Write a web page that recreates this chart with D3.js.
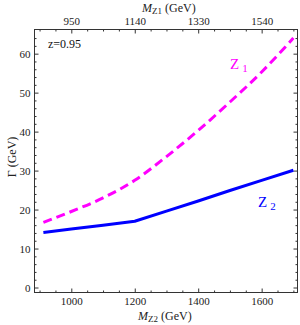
<!DOCTYPE html>
<html>
<head>
<meta charset="utf-8">
<script src="https://cdn.jsdelivr.net/npm/d3@7"></script>
<style>
  body { margin: 0; background: #fff; }
  svg { font-family: "Liberation Serif", "DejaVu Serif", serif; }
  .axis path, .axis line { stroke: #333; }
  .axis text { font-size: 11px; fill: #222; font-family: "Liberation Serif", serif; }
</style>
</head>
<body>
<svg width="300" height="325"></svg>
<script>
// Z2 mass (GeV) along the bottom axis
const massZ2 = [912, 1000, 1100, 1200, 1300, 1400, 1500, 1600, 1700];
// widths (GeV)
const gammaZ1 = [16.7, 19.5, 23.0, 27.5, 33.6, 40.3, 47.6, 55.3, 64.0];
const gammaZ2 = [14.1, 15.0, 16.0, 17.0, 19.6, 22.2, 24.9, 27.5, 30.1];

const bottomTicks = [1000, 1200, 1400, 1600];
const topTickLabels = ["950", "1140", "1330", "1540"];
const yTicks = [0, 10, 20, 30, 40, 50, 60];

const svg = d3.select("svg");

const x = d3.scaleLinear().domain([884, 1713]).range([34.5, 297.5]);
const y = d3.scaleLinear().domain([-1.28, 66.2]).range([292.5, 29.5]);

const xMinor = d3.range(900, 1713, 50).filter(v => !bottomTicks.includes(v));
const yMinor = d3.range(0, 66, 2).filter(v => !yTicks.includes(v));

// frame
svg.append("rect")
  .attr("x", x.range()[0]).attr("y", y.range()[1])
  .attr("width", x.range()[1] - x.range()[0])
  .attr("height", y.range()[0] - y.range()[1])
  .attr("fill", "none").attr("stroke", "#333");

// bottom
svg.append("g").attr("class", "axis")
  .attr("transform", `translate(0,${y.range()[0]})`)
  .call(d3.axisBottom(x).tickValues(bottomTicks).tickSize(-4).tickPadding(5).tickFormat(d3.format("d")))
  .call(g => g.select(".domain").remove());
svg.append("g").attr("class", "axis")
  .attr("transform", `translate(0,${y.range()[0]})`)
  .call(d3.axisBottom(x).tickValues(xMinor).tickSize(-2).tickFormat(""))
  .call(g => g.select(".domain").remove());

// top (Z1 mass labels at the same positions)
svg.append("g").attr("class", "axis")
  .attr("transform", `translate(0,${y.range()[1]})`)
  .call(d3.axisTop(x).tickValues(bottomTicks).tickSize(-4).tickPadding(5)
    .tickFormat((d, i) => topTickLabels[i]))
  .call(g => g.select(".domain").remove());
svg.append("g").attr("class", "axis")
  .attr("transform", `translate(0,${y.range()[1]})`)
  .call(d3.axisTop(x).tickValues(xMinor).tickSize(-2).tickFormat(""))
  .call(g => g.select(".domain").remove());

// left
svg.append("g").attr("class", "axis")
  .attr("transform", `translate(${x.range()[0]},0)`)
  .call(d3.axisLeft(y).tickValues(yTicks).tickSize(-4).tickPadding(4))
  .call(g => g.select(".domain").remove());
svg.append("g").attr("class", "axis")
  .attr("transform", `translate(${x.range()[0]},0)`)
  .call(d3.axisLeft(y).tickValues(yMinor).tickSize(-2).tickFormat(""))
  .call(g => g.select(".domain").remove());

// right
svg.append("g").attr("class", "axis")
  .attr("transform", `translate(${x.range()[1]},0)`)
  .call(d3.axisRight(y).tickValues(yTicks).tickSize(-4).tickFormat(""))
  .call(g => g.select(".domain").remove());
svg.append("g").attr("class", "axis")
  .attr("transform", `translate(${x.range()[1]},0)`)
  .call(d3.axisRight(y).tickValues(yMinor).tickSize(-2).tickFormat(""))
  .call(g => g.select(".domain").remove());

// curves
const lineZ1 = d3.line().x((d, i) => x(massZ2[i])).y(d => y(d)).curve(d3.curveMonotoneX);
const lineZ2 = d3.line().x((d, i) => x(massZ2[i])).y(d => y(d));

svg.append("path").datum(gammaZ1)
  .attr("d", lineZ1)
  .attr("fill", "none").attr("stroke", "#ff00ff")
  .attr("stroke-width", 3).attr("stroke-dasharray", "9,5");

svg.append("path").datum(gammaZ2)
  .attr("d", lineZ2)
  .attr("fill", "none").attr("stroke", "#0000ff")
  .attr("stroke-width", 3).attr("stroke-linejoin", "round");

// labels
const z1 = svg.append("text").attr("x", 230).attr("y", 69)
  .attr("fill", "#ff00ff").style("font-size", "15px");
z1.append("tspan").text("Z");
z1.append("tspan").attr("dx", 3).attr("dy", 3).style("font-size", "11px").text("1");

const z2 = svg.append("text").attr("x", 258).attr("y", 207)
  .attr("fill", "#0000ff").style("font-size", "15px");
z2.append("tspan").text("Z");
z2.append("tspan").attr("dx", 3).attr("dy", 3).style("font-size", "11px").text("2");

svg.append("text").attr("x", 48).attr("y", 48)
  .style("font-size", "12px").attr("fill", "#111").text("z=0.95");

// axis titles
const topTitle = svg.append("text").attr("x", 142).attr("y", 12)
  .style("font-size", "12px").attr("fill", "#222");
topTitle.append("tspan").style("font-style", "italic").text("M");
topTitle.append("tspan").attr("dy", 2).style("font-size", "9px").text("Z1");
topTitle.append("tspan").attr("dy", -2).text(" (GeV)");

const bottomTitle = svg.append("text").attr("x", 138).attr("y", 320)
  .style("font-size", "12px").attr("fill", "#222");
bottomTitle.append("tspan").style("font-style", "italic").text("M");
bottomTitle.append("tspan").attr("dy", 2).style("font-size", "9px").text("Z2");
bottomTitle.append("tspan").attr("dy", -2).text(" (GeV)");

svg.append("text")
  .attr("transform", "translate(16,157) rotate(-90)")
  .attr("text-anchor", "middle")
  .style("font-size", "12px").attr("fill", "#222")
  .text("Γ (GeV)");
</script>
</body>
</html>
